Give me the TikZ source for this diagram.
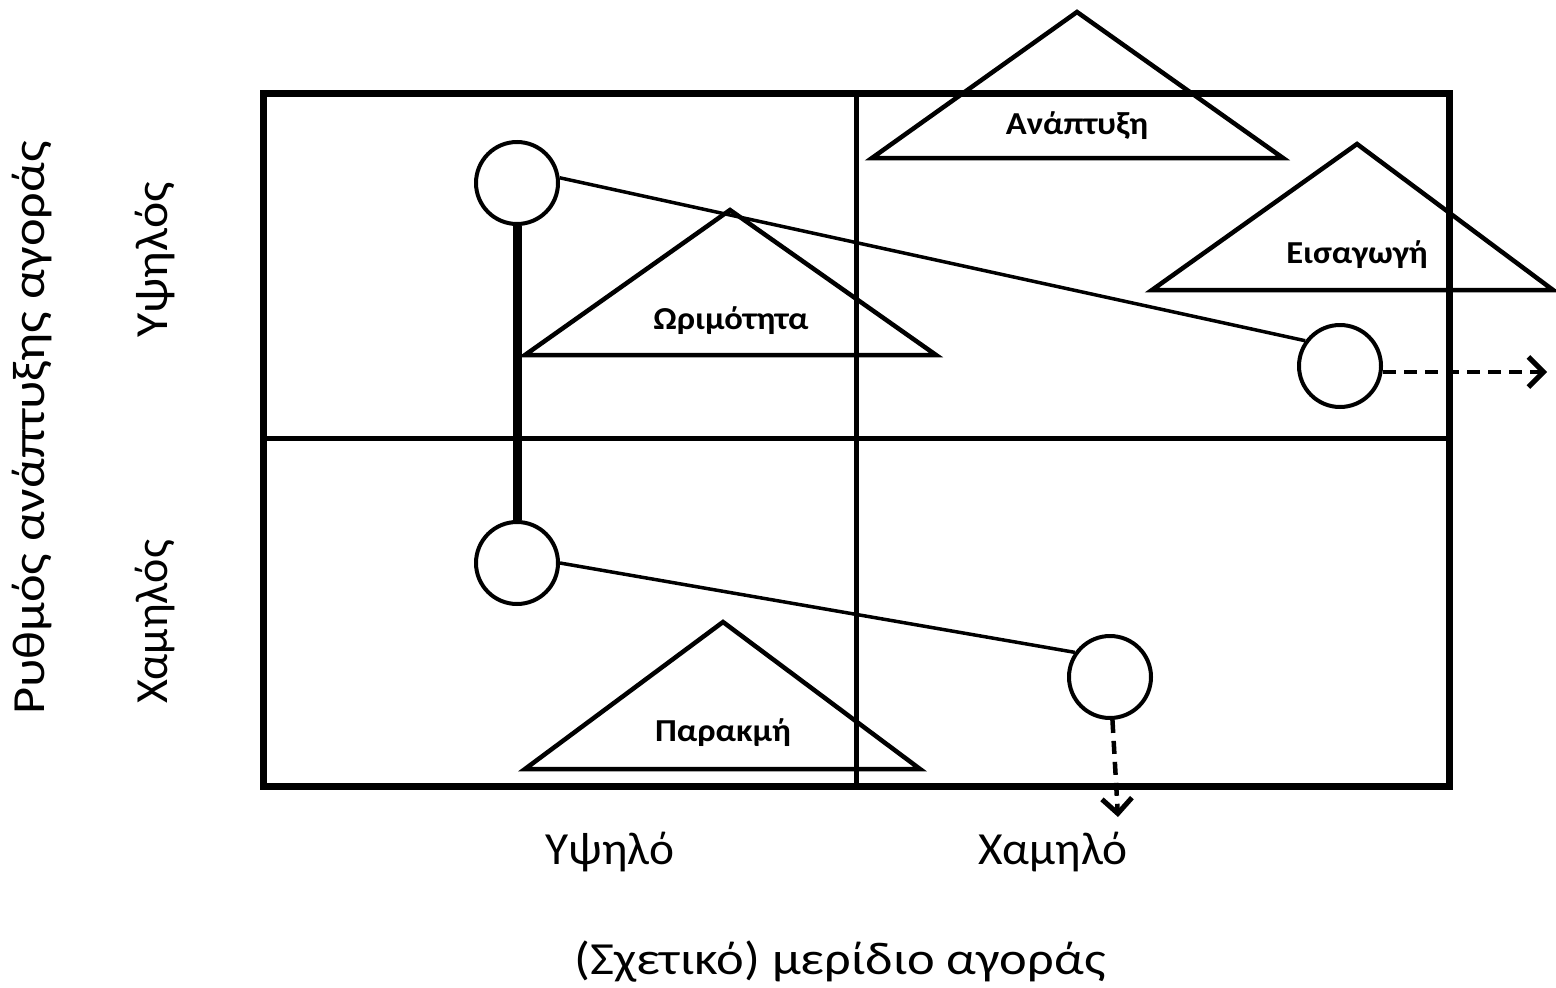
\documentclass[tikz,border=0pt]{standalone}
\usepackage{fontspec}
\setmainfont{Carlito}
\usetikzlibrary{arrows.meta}
\begin{document}
\begin{tikzpicture}[x=1pt,y=-1pt,
  frame/.style={line width=7pt},
  divider/.style={line width=5pt},
  tri/.style={line width=4.5pt, line join=miter},
  stage/.style={circle, draw, line width=4pt, minimum size=82pt, inner sep=0pt},
  thinlink/.style={line width=3.5pt},
  thicklink/.style={line width=9pt},
  move/.style={line width=4.5pt, dash pattern=on 13pt off 8pt, -{Straight Barb[length=15pt,width=30pt,line width=5pt]}},
  tlabel/.style={font=\fontsize{32}{36}\selectfont\bfseries, inner sep=0pt, xscale=1.08},
  axlabel/.style={font=\fontsize{46}{50}\selectfont, inner sep=0pt}
]
\useasboundingbox (0,0) rectangle (1556,988);
% grid
\draw[divider] (856,93) -- (856,786);
\draw[divider] (263,438) -- (1449,438);
\draw[frame] (263,93) rectangle (1449,786);
% triangles
\draw[tri] (1077,12) -- (1283,158) -- (872,158) -- cycle;
\draw[tri] (1357,144) -- (1553,290) -- (1152,290) -- cycle;
\draw[tri] (730,210) -- (936,355) -- (525,355) -- cycle;
\draw[tri] (723,622) -- (920,769) -- (525,769) -- cycle;
\node[tlabel] (lanap) at (1077,126) {Ανάπτυξη};
\node[tlabel] (leisa) at (1357,255) {Εισαγωγή};
\node[tlabel] (lorim) at (731,321) {Ωριμότητα};
\node[tlabel] (lpar) at (723,733) {Παρακμή};
% circles
\node[stage] (c1) at (517,183) {};
\node[stage] (c2) at (1340,366) {};
\node[stage] (c3) at (517,563) {};
\node[stage] (c4) at (1110,677) {};
\draw[thinlink] (c1.7) -- (c2.144);
\draw[thinlink] (c3.east) -- (c4.145);
\draw[thicklink] (c1) -- (c3);
\coordinate (e2) at (1547,372);
\coordinate (e4) at (1118,817);
\draw[move] (c2.east |- e2) -- (e2);
\draw[move] (c4) -- (e4);
% axis labels
\node[axlabel, xscale=1.03] (xhigh) at (610,852) {Υψηλό};
\node[axlabel, xscale=1.03] (xlow) at (1053,852) {Χαμηλό};
\node[axlabel, xscale=1.14] (xtitle) at (840,962) {(Σχετικό) μερίδιο αγοράς};
\node[axlabel, rotate=90, xscale=1.14] (ytitle) at (32,428) {Ρυθμός ανάπτυξης αγοράς};
\node[axlabel, rotate=90, xscale=1.08] (yhigh) at (155,260) {Υψηλός};
\node[axlabel, rotate=90] (ylow) at (155,622) {Χαμηλός};
\end{tikzpicture}
\end{document}
